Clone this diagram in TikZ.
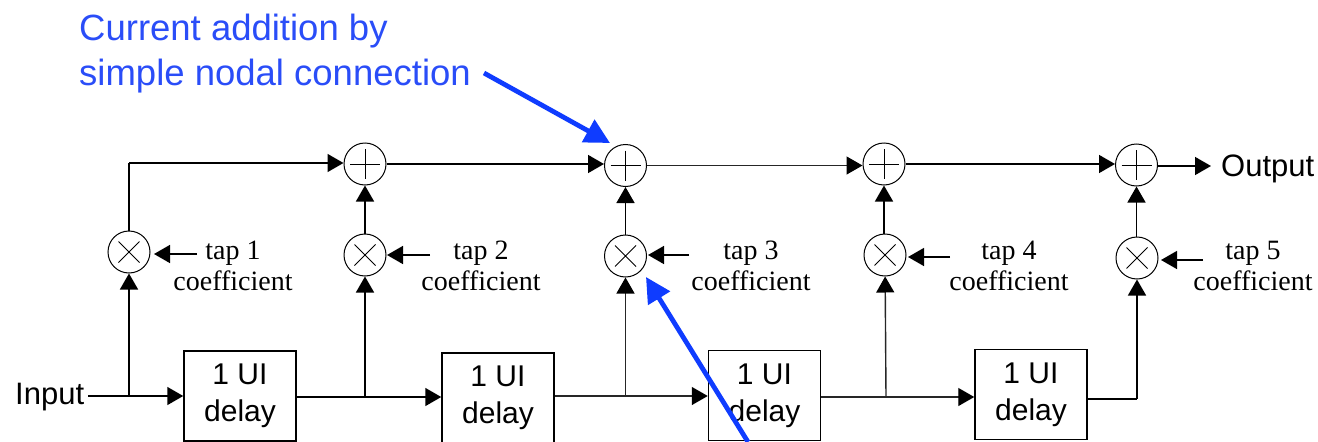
\documentclass[tikz,border=0pt]{standalone}
\usepackage{fontspec}
\setmainfont{Liberation Sans}
\newfontfamily\tapfont{Liberation Serif}
\usetikzlibrary{arrows.meta}
\definecolor{annot}{HTML}{0F3CFF}
\definecolor{annottext}{HTML}{2A4DF8}
\tikzset{
  x=1pt,y=-1pt,
  op/.style={draw,circle,minimum size=42pt,inner sep=0pt,line width=1pt},
  box/.style={draw,minimum width=112pt,minimum height=90pt,inner sep=0pt,align=center,font=\fontsize{30}{37}\selectfont,line width=1.5pt},
  tap/.style={font=\tapfont\fontsize{28}{31}\selectfont,align=center,inner sep=0pt},
  sig/.style={line width=1.5pt,-{Triangle[length=16pt,width=18pt]}},
  thinsig/.style={line width=1.4pt,black!85,-{Triangle[length=16pt,width=18pt,color=black]}},
  wire/.style={line width=1.5pt},
  blue arrow/.style={line width=4.8pt,annot,-{Triangle[length=25pt,width=25pt]}},
  sans/.style={font=\fontsize{31}{36}\selectfont,inner sep=0pt}
}
\newcommand{\plusmark}[1]{\draw[line width=.9pt] ([yshift=15pt]#1.center) -- ([yshift=-15pt]#1.center) ([xshift=-15pt]#1.center) -- ([xshift=15pt]#1.center);}
\newcommand{\timesmark}[1]{\draw[line width=.9pt] ([shift={(-10.5pt,-10.5pt)}]#1.center) -- ([shift={(10.5pt,10.5pt)}]#1.center) ([shift={(-10.5pt,10.5pt)}]#1.center) -- ([shift={(10.5pt,-10.5pt)}]#1.center);}
\begin{document}
\begin{tikzpicture}
\useasboundingbox (0,0) rectangle (1318,442);
\node[op] (p1) at (365,164) {}; \node[op] (p2) at (625.5,165.5) {}; \node[op] (p3) at (884,164) {}; \node[op] (p4) at (1136.5,165) {};
\node[op] (m1) at (129,252) {}; \node[op] (m2) at (365,255) {}; \node[op] (m3) at (625.5,256) {}; \node[op] (m4) at (885,255) {}; \node[op] (m5) at (1137,258) {};
\foreach \n in {p1,p2,p3,p4} {\plusmark{\n}}
\foreach \n in {m1,m2,m3,m4,m5} {\timesmark{\n}}
\node[box] (d1) at (240,396) {1 UI\\delay}; \node[box] (d2) at (498,398) {1 UI\\delay};
\node[box] (d3) at (764.5,395.5) {1 UI\\delay}; \node[box] (d4) at (1031,394.5) {1 UI\\delay};
\node[sans,anchor=west] (in) at (15,397) {Input};
\node[sans,anchor=west] (out) at (1221,169) {Output};
\coordinate (istart) at (88,396); \coordinate (oend) at (1211,166);
\coordinate (j0) at (129,396); \coordinate (j1) at (365,397); \coordinate (j2) at (625.5,396); \coordinate (j3) at (886,397); \coordinate (c1) at (1137,399);
\coordinate (top) at (129,163);
\draw[sig] (istart) -- (d1.west |- istart);
\draw[sig] (j0) -- (m1);
\draw[wire] (m1) -- (top);
\draw[sig] (top) -- (p1.west |- top);
\draw[sig] (p1) -- (p2.west |- p1); \draw[thinsig] (p2) -- (p3.west |- p2); \draw[sig] (p3) -- (p4.west |- p3);
\draw[sig] (p4.east |- oend) -- (oend);
\draw[sig] (m2) -- (p1); \draw[sig] (m3) -- (p2); \draw[sig] (p3 |- m4.north) -- (p3); \draw[sig] (p4 |- m5.north) -- (p4);
\draw[sig] (j1) -- (m2); \draw[thinsig] (j2) -- (m3); \draw[thinsig] (j3) -- (m4);
\draw[sig] (d1.east |- j1) -- (d2.west |- j1);
\draw[thinsig] (d2.east |- j2) -- (d3.west |- j2);
\draw[thinsig] (d3.east |- j3) -- (d4.west |- j3);
\draw[wire] (d4.east |- c1) -- (c1); \draw[sig] (c1) -- (m5);
\node[tap] (t1) at (233,266) {tap 1\\coefficient}; \node[tap] (t2) at (481,266) {tap 2\\coefficient};
\node[tap] (t3) at (751,266) {tap 3\\coefficient}; \node[tap] (t4) at (1009,266) {tap 4\\coefficient};
\node[tap] (t5) at (1253,266) {tap 5\\coefficient};
\coordinate (a1) at (197,254); \coordinate (a2) at (430,255); \coordinate (a3) at (689,255); \coordinate (a4) at (950,257); \coordinate (a5) at (1203,260);
\coordinate (b1) at (154,254); \coordinate (b2) at (387,255); \coordinate (b3) at (648,255); \coordinate (b4) at (908,257); \coordinate (b5) at (1161,260);
\draw[sig] (a1) -- (b1); \draw[sig] (a2) -- (b2); \draw[sig] (a3) -- (b3); \draw[sig] (a4) -- (b4); \draw[sig] (a5) -- (b5);
\node[sans,anchor=north west,align=left,annottext,font=\fontsize{36.5}{44.5}\selectfont] (note) at (79,14) {Current addition by\\simple nodal connection};
\coordinate (bs) at (484,73); \coordinate (tipa) at (610,143);
\coordinate (bs2) at (748,442); \coordinate (tipb) at (646,277);
\draw[blue arrow] (bs) -- (tipa);
\draw[blue arrow] (bs2) -- (tipb);
\end{tikzpicture}
\end{document}
